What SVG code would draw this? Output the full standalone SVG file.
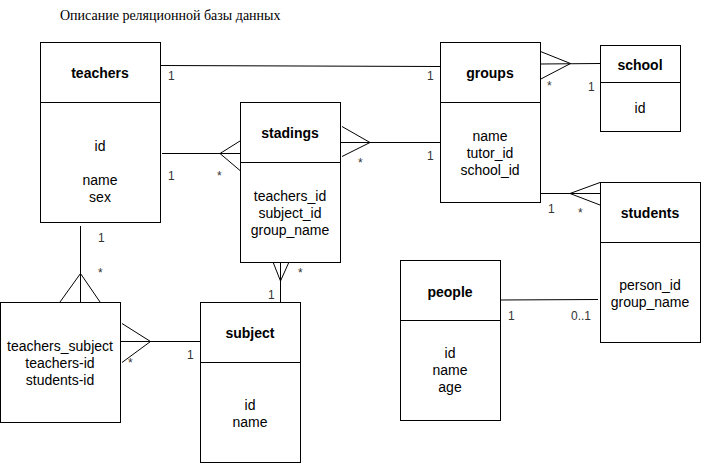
<svg xmlns="http://www.w3.org/2000/svg" width="701" height="463" viewBox="0 0 701 463">
<style>
.box{fill:#fff;stroke:#000;stroke-width:1}
.t{font-family:"Liberation Sans",Arial,sans-serif;font-size:14px;font-weight:bold;text-anchor:middle;fill:#000}
.b{font-family:"Liberation Sans",Arial,sans-serif;font-size:14px;text-anchor:middle;fill:#000}
.l{font-family:"Liberation Sans",Arial,sans-serif;font-size:12px;fill:#333}
.c{fill:none;stroke:#000;stroke-width:1}
</style>
<rect width="701" height="463" fill="#fff"/>
<text x="60" y="20" font-family="'Liberation Serif','Times New Roman',serif" font-size="14" fill="#000">Описание реляционной базы данных</text>

<g id="connectors">
  <!-- teachers - groups -->
  <path class="c" d="M160,65.5 L440,66.5"/>
  <!-- groups - school -->
  <path class="c" d="M600,63.5 L540,64 M538,50.5 L570.5,63.5 L538,80.5"/>
  <!-- teachers - stadings -->
  <path class="c" d="M162,153.5 L240,153.5 M240,141 L220,153.5 L240,170.5"/>
  <!-- stadings - groups -->
  <path class="c" d="M440,142.5 L340,142.5 M342,126.5 L370,142.5 L342,156.5"/>
  <!-- groups - students -->
  <path class="c" d="M540,193.5 L600,193.5 M600,182.5 L570,193.5 L600,205"/>
  <!-- people - students -->
  <path class="c" d="M500,300 L598,299.5"/>
  <!-- teachers - teachers_subject -->
  <path class="c" d="M80.5,226 L80.5,302 M60,302 L80.5,273.5 L100,302"/>
  <!-- teachers_subject - subject -->
  <path class="c" d="M200,341.5 L120,341.5 M122,323.5 L150.5,341.5 L122,362.5"/>
  <!-- stadings - subject -->
  <path class="c" d="M280.5,302 L280.5,262 M273,262 L280.5,281 L289,262"/>
</g>

<g id="labels">
  <text class="l" x="168" y="80">1</text>
  <text class="l" x="427" y="80">1</text>
  <text class="l" x="547" y="90">*</text>
  <text class="l" x="588" y="91">1</text>
  <text class="l" x="168" y="180">1</text>
  <text class="l" x="217" y="180">*</text>
  <text class="l" x="358" y="167">*</text>
  <text class="l" x="427" y="160">1</text>
  <text class="l" x="548" y="213">1</text>
  <text class="l" x="578" y="217">*</text>
  <text class="l" x="508" y="320">1</text>
  <text class="l" x="571" y="320">0..1</text>
  <text class="l" x="98" y="242">1</text>
  <text class="l" x="98" y="277">*</text>
  <text class="l" x="187" y="359">1</text>
  <text class="l" x="128" y="367">*</text>
  <text class="l" x="298" y="277">*</text>
  <text class="l" x="268" y="299">1</text>
</g>

<g id="teachers">
  <rect class="box" x="40.5" y="42.5" width="120" height="180"/>
  <line class="c" x1="40.5" y1="102.5" x2="160.5" y2="102.5"/>
  <text class="t" x="100" y="78" font-size="16">teachers</text>
  <text class="b" x="100" y="151">id</text>
  <text class="b" x="100" y="185">name</text>
  <text class="b" x="100" y="202">sex</text>
</g>

<g id="groups">
  <rect class="box" x="440.5" y="42.5" width="100" height="160"/>
  <line class="c" x1="440.5" y1="102.5" x2="540.5" y2="102.5"/>
  <text class="t" x="490" y="78">groups</text>
  <text class="b" x="490" y="141">name</text>
  <text class="b" x="490" y="158">tutor_id</text>
  <text class="b" x="490" y="175">school_id</text>
</g>

<g id="school">
  <rect class="box" x="600.5" y="45.5" width="80" height="86"/>
  <line class="c" x1="600.5" y1="82.5" x2="680.5" y2="82.5"/>
  <text class="t" x="640" y="70">school</text>
  <text class="b" x="640" y="113">id</text>
</g>

<g id="stadings">
  <rect class="box" x="240.5" y="102.5" width="100" height="160"/>
  <line class="c" x1="240.5" y1="162.5" x2="340.5" y2="162.5"/>
  <text class="t" x="290" y="138">stadings</text>
  <text class="b" x="290" y="201">teachers_id</text>
  <text class="b" x="290" y="218">subject_id</text>
  <text class="b" x="290" y="235">group_name</text>
</g>

<g id="students">
  <rect class="box" x="600.5" y="182.5" width="100" height="160"/>
  <line class="c" x1="600.5" y1="242.5" x2="700.5" y2="242.5"/>
  <text class="t" x="650" y="218">students</text>
  <text class="b" x="650" y="290">person_id</text>
  <text class="b" x="650" y="307">group_name</text>
</g>

<g id="people">
  <rect class="box" x="400.5" y="260.5" width="100" height="160"/>
  <line class="c" x1="400.5" y1="320.5" x2="500.5" y2="320.5"/>
  <text class="t" x="450" y="297">people</text>
  <text class="b" x="450" y="358">id</text>
  <text class="b" x="450" y="375">name</text>
  <text class="b" x="450" y="392">age</text>
</g>

<g id="teachers_subject">
  <rect class="box" x="0.5" y="302.5" width="120" height="120"/>
  <text class="b" x="60" y="351">teachers_subject</text>
  <text class="b" x="60" y="368">teachers-id</text>
  <text class="b" x="60" y="385">students-id</text>
</g>

<g id="subject">
  <rect class="box" x="200.5" y="302.5" width="100" height="160"/>
  <line class="c" x1="200.5" y1="362.5" x2="300.5" y2="362.5"/>
  <text class="t" x="250" y="338">subject</text>
  <text class="b" x="250" y="410">id</text>
  <text class="b" x="250" y="427">name</text>
</g>
</svg>
